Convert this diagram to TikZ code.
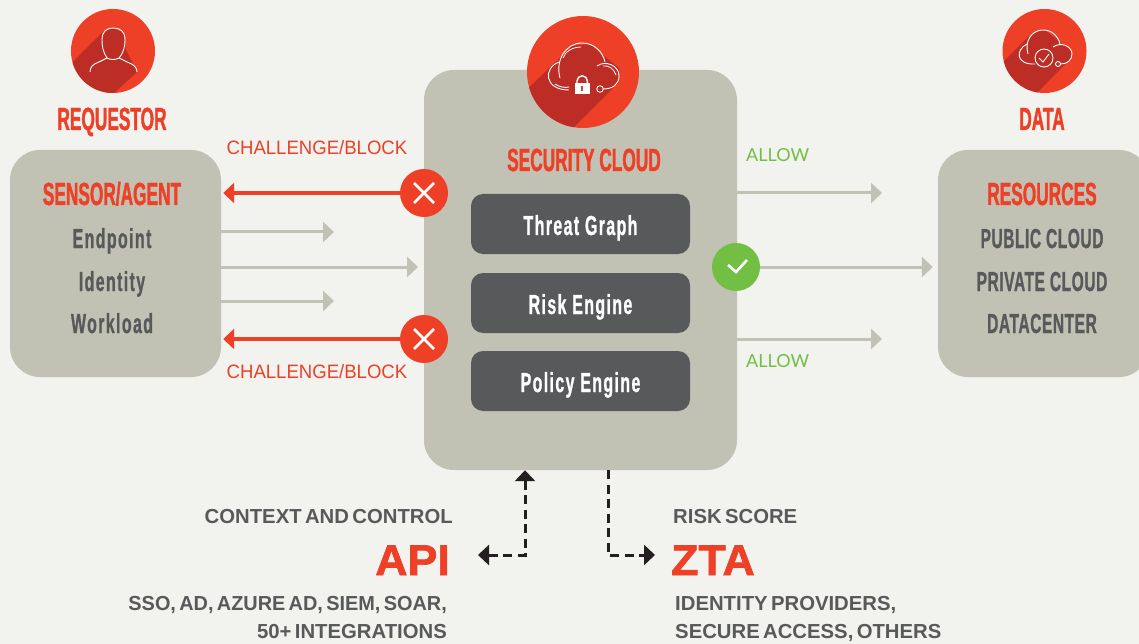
\documentclass[tikz,border=0pt]{standalone}
\usepackage{fontspec}
\usetikzlibrary{arrows.meta}
\setmainfont{Liberation Sans}
\newfontfamily\headfont[FakeStretch=0.54,FakeBold=1.2]{Liberation Sans}
\newfontfamily\itemfont[FakeStretch=0.58,LetterSpace=5,FakeBold=0.8]{Liberation Sans}
\newfontfamily\capsfont[FakeStretch=0.565,LetterSpace=2,FakeBold=0.8]{Liberation Sans}
\newfontfamily\notefont[FakeStretch=0.957]{Liberation Sans}
\newfontfamily\sidefont[WordSpace=0.6]{Liberation Sans}
\newfontfamily\tightfont[WordSpace=0.6,FakeStretch=0.98]{Liberation Sans}
\newfontfamily\bigfont[FakeStretch=1.04,FakeBold=1.5]{Liberation Sans}
\newfontfamily\allowfont{Lato}
\definecolor{pagebg}{HTML}{F2F2EE}
\definecolor{boxgray}{HTML}{C1C1B4}
\definecolor{darkgray}{HTML}{58595B}
\definecolor{mainred}{HTML}{EE3F27}
\definecolor{shadowred}{HTML}{BC2D26}
\definecolor{okgreen}{HTML}{72BF44}
\definecolor{dashblack}{HTML}{231F20}

\begin{document}
\begin{tikzpicture}[%
      x=1pt,y=-1pt,
      panel/.style={fill=boxgray,rounded corners=30pt,inner sep=0pt},
      engine/.style={fill=darkgray,rounded corners=12pt,minimum width=219pt,minimum height=60pt,
        text=white,font=\itemfont\bfseries\fontsize{27.5}{30}\selectfont,inner sep=0pt,text height=22pt,text depth=0pt},
      heading/.style={anchor=base,text=mainred,font=\headfont\bfseries\fontsize{32}{34}\selectfont,inner sep=0pt},
      item/.style={anchor=base,text=darkgray,font=\itemfont\bfseries\fontsize{27.5}{30}\selectfont,inner sep=0pt},
      capsitem/.style={anchor=base,text=darkgray,font=\capsfont\bfseries\fontsize{27.5}{30}\selectfont,inner sep=0pt},
      note/.style={anchor=base,text=mainred,font=\notefont\fontsize{19.4}{22}\selectfont,inner sep=0pt},
      okay/.style={anchor=base west,text=okgreen,font=\allowfont\fontsize{18}{22}\selectfont,inner sep=0pt},
      side/.style={text=darkgray,font=\sidefont\bfseries\fontsize{20.3}{24}\selectfont,inner sep=0pt},
      big/.style={text=mainred,font=\bigfont\bfseries\fontsize{43}{46}\selectfont,inner sep=0pt},
      graytip/.style={draw=boxgray,line width=3pt,-{Triangle[length=11pt,width=20pt]}},
      redtip/.style={draw=mainred,line width=3.2pt,-{Triangle[length=11pt,width=20pt]},shorten >=2pt},
      dashline/.style={draw=dashblack,line width=3pt,dash pattern=on 9pt off 5.5pt},
      outline/.style={draw=white,line width=0.9pt},
      xbutton/.style={circle,fill=mainred,minimum size=48pt,inner sep=0pt,
        path picture={\draw[white,line width=2.5pt]
          (path picture bounding box.center) ++(-10,-10) -- ++(20,20) ++(-20,0) -- ++(20,-20);}},
      okbutton/.style={circle,fill=okgreen,minimum size=48pt,inner sep=0pt,
        path picture={\draw[white,line width=2.6pt]
          (path picture bounding box.center) ++(-8,-2) -- ++(8,7) -- ++(11,-12);}},
      ]
      \fill [pagebg] (0,0) rectangle (1139,644);
      \clip (0,0) rectangle (1139,644);

      % panels
      \node [panel,minimum width=211pt,minimum height=227pt] (sensor) at (115.5,263.5) {};
      \node [panel,minimum width=313pt,minimum height=400pt] (security) at (580.5,270) {};
      \node [panel,minimum width=211pt,minimum height=227pt] (resources) at (1043.5,263.5) {};

      \node [engine] (threat) at (580.5,224) {Threat Graph};
      \node [engine] (risk) at (580.5,303) {Risk Engine};
      \node [engine] (policy) at (580.5,381) {Policy Engine};

      % arrow ends
      \coordinate (endpointend) at (334,232);
      \coordinate (identityend) at (418,267);
      \coordinate (workloadend) at (334,301);
      \coordinate (allowtop) at (882,193);
      \coordinate (allowlow) at (882,339);
      \coordinate (apileft) at (478,555);
      \coordinate (apicorner) at (525,555);
      \coordinate (ztacorner) at (608,555);
      \coordinate (ztaright) at (655,555);

      \draw [graytip] (endpointend -| sensor.east) -- (endpointend);
      \draw [graytip] (identityend -| sensor.east) -- (identityend);
      \draw [graytip] (workloadend -| sensor.east) -- (workloadend);
      \draw [graytip] (allowtop -| security.east) -- (allowtop);
      \draw [graytip] (allowlow -| security.east) -- (allowlow);

      \node [xbutton] (blocktop) at (424,193) {};
      \node [xbutton] (blocklow) at (424,339) {};
      \node [okbutton] (pass) at (736,267) {};
      \draw [redtip] (blocktop) -- (blocktop -| sensor.east);
      \draw [redtip] (blocklow) -- (blocklow -| sensor.east);
      \draw [graytip,shorten >=5pt] (pass) -- (pass -| resources.west);

      \draw [dashline,{Triangle[length=11pt,width=20pt]}-{Triangle[length=11pt,width=20pt]}] (apicorner |- security.south) -- (apicorner) -- (apileft);
      \draw [dashline,-{Triangle[length=11pt,width=20pt]}] (ztacorner |- security.south) -- (ztacorner) -- (ztaright);

      % requestor badge
      \node [circle,fill=mainred,minimum size=84pt,inner sep=0pt] (userbadge) at (113,51) {};
      \begin{scope}
        \clip (113,51) circle (42);
        \fill [shadowred] (102,33) -- (113,28) -- (124,33) -- (126,50) -- (137,72) -- (100,106) -- (60,75) -- cycle;
      \end{scope}
      \draw [outline] (107,58) .. controls (103,52) and (102,46) .. (102,40)
        .. controls (102,31) and (107,28) .. (113,28)
        .. controls (120,28) and (125,31) .. (125,40)
        .. controls (125,46) and (124,52) .. (119,58)
        -- (127,62) .. controls (133,64) and (137,67) .. (137,72);
      \draw [outline] (107,58) -- (99,62) .. controls (93,64) and (90,67) .. (90,72);
      \draw [outline] (107,58) .. controls (110,60) and (116,60) .. (119,58);

      % cloud badge
      \node [circle,fill=mainred,minimum size=112pt,inner sep=0pt] (cloudbadge) at (583,72) {};
      \begin{scope}
        \clip (583,72) circle (56);
        \fill [shadowred] (560,58) -- (572,46) -- (590,44) -- (604,56) -- (619,68) -- (619,82) -- (612,89) -- (553,148) -- (500,115) -- cycle;
      \end{scope}
      \draw [outline] (560,78) .. controls (555,60) and (566,43) .. (582,43) .. controls (594,43) and (603,52) .. (605,62);
      \draw [outline] (597,66) .. controls (605,60) and (619,65) .. (619,76) .. controls (619,85) and (612,89) .. (603,89);
      \draw [outline] (559,62) .. controls (543,68) and (544,90) .. (569,90);
      \node [circle,outline,minimum size=6.5pt,inner sep=0pt] (cloudring) at (600,89) {};
      \draw [outline] (555,84) .. controls (559,87) and (565,88) .. (569,87);
      \draw [outline,line width=0.8pt] (581,47) .. controls (572,47) and (565,52) .. (563,58);
      \draw [outline,line width=0.8pt] (603,66) .. controls (609,65) and (614,69) .. (616,75);
      \draw [draw=white,line width=1.4pt] (577,84) -- (577,81) arc (-180:0:5.2) -- (587.4,84);
      \node [fill=white,minimum width=15pt,minimum height=11pt,inner sep=0pt] (lockbody) at (582,88.5) {};
      \fill [mainred] (581.4,86) rectangle (583,91);

      % data badge
      \node [circle,fill=mainred,minimum size=84pt,inner sep=0pt] (databadge) at (1044.5,51) {};
      \begin{scope}
        \clip (1044.5,51) circle (42);
        \fill [shadowred] (1028,37) -- (1043,29) -- (1060,42) -- (1071,50) -- (1071,58) -- (1037,93) -- (1000,110) -- (985,80) -- cycle;
      \end{scope}
      \draw [outline] (1028,54) .. controls (1024,41) and (1032,30) .. (1043,30) .. controls (1052,30) and (1058,36) .. (1060,44);
      \draw [outline] (1027,44) .. controls (1015,50) and (1016,65) .. (1035,64);
      \draw [outline] (1053,47) .. controls (1062,41) and (1072,47) .. (1072,54) .. controls (1072,60) and (1067,64) .. (1061,64);
      \node [circle,outline,minimum size=18pt,inner sep=0pt] (datacheck) at (1044,58) {};
      \node [circle,outline,minimum size=5pt,inner sep=0pt] (dataring) at (1058,64) {};
      \draw [outline] (1039,58) -- (1043,62) -- (1049,54);

      % labels
      \node [heading] (requestorlabel) at (112,130) {REQUESTOR};
      \node [heading] (datalabel) at (1042,130) {DATA};
      \node [heading] (sensorlabel) at (112,205) {SENSOR/AGENT};
      \node [heading] (securitylabel) at (584,171) {SECURITY CLOUD};
      \node [heading] (resourceslabel) at (1042,205) {RESOURCES};
      \node [item] (endpointlabel) at (112,248) {Endpoint};
      \node [item] (identitylabel) at (112,291) {Identity};
      \node [item] (workloadlabel) at (112,333) {Workload};
      \node [capsitem] (publiclabel) at (1042,248) {PUBLIC CLOUD};
      \node [capsitem] (privatelabel) at (1042,291) {PRIVATE CLOUD};
      \node [capsitem] (centerlabel) at (1042,333) {DATACENTER};

      \node [note] (blocktoplabel) at (317,154.5) {CHALLENGE/BLOCK};
      \node [note] (blocklowlabel) at (317,378.5) {CHALLENGE/BLOCK};
      \node [okay] (allowtoplabel) at (746,162) {ALLOW};
      \node [okay] (allowlowlabel) at (746,367) {ALLOW};

      \node [side,anchor=base east] (contextlabel) at (453,523) {CONTEXT AND CONTROL};
      \node [side,anchor=base west] (scorelabel) at (673,523) {RISK SCORE};
      \node [big,anchor=base east] (apilabel) at (450,575) {API};
      \node [big,anchor=base west] (ztalabel) at (671,575) {ZTA};
      \node [side,anchor=base east,font=\tightfont\bfseries\fontsize{20.3}{24}\selectfont] (ssolabel) at (447,610) {SSO, AD, AZURE AD, SIEM, SOAR,};
      \node [side,anchor=base east] (integlabel) at (447,638) {50+ INTEGRATIONS};
      \node [side,anchor=base west] (idplabel) at (675,610) {IDENTITY PROVIDERS,};
      \node [side,anchor=base west] (accesslabel) at (675,638) {SECURE ACCESS, OTHERS};
\end{tikzpicture}
\end{document}
